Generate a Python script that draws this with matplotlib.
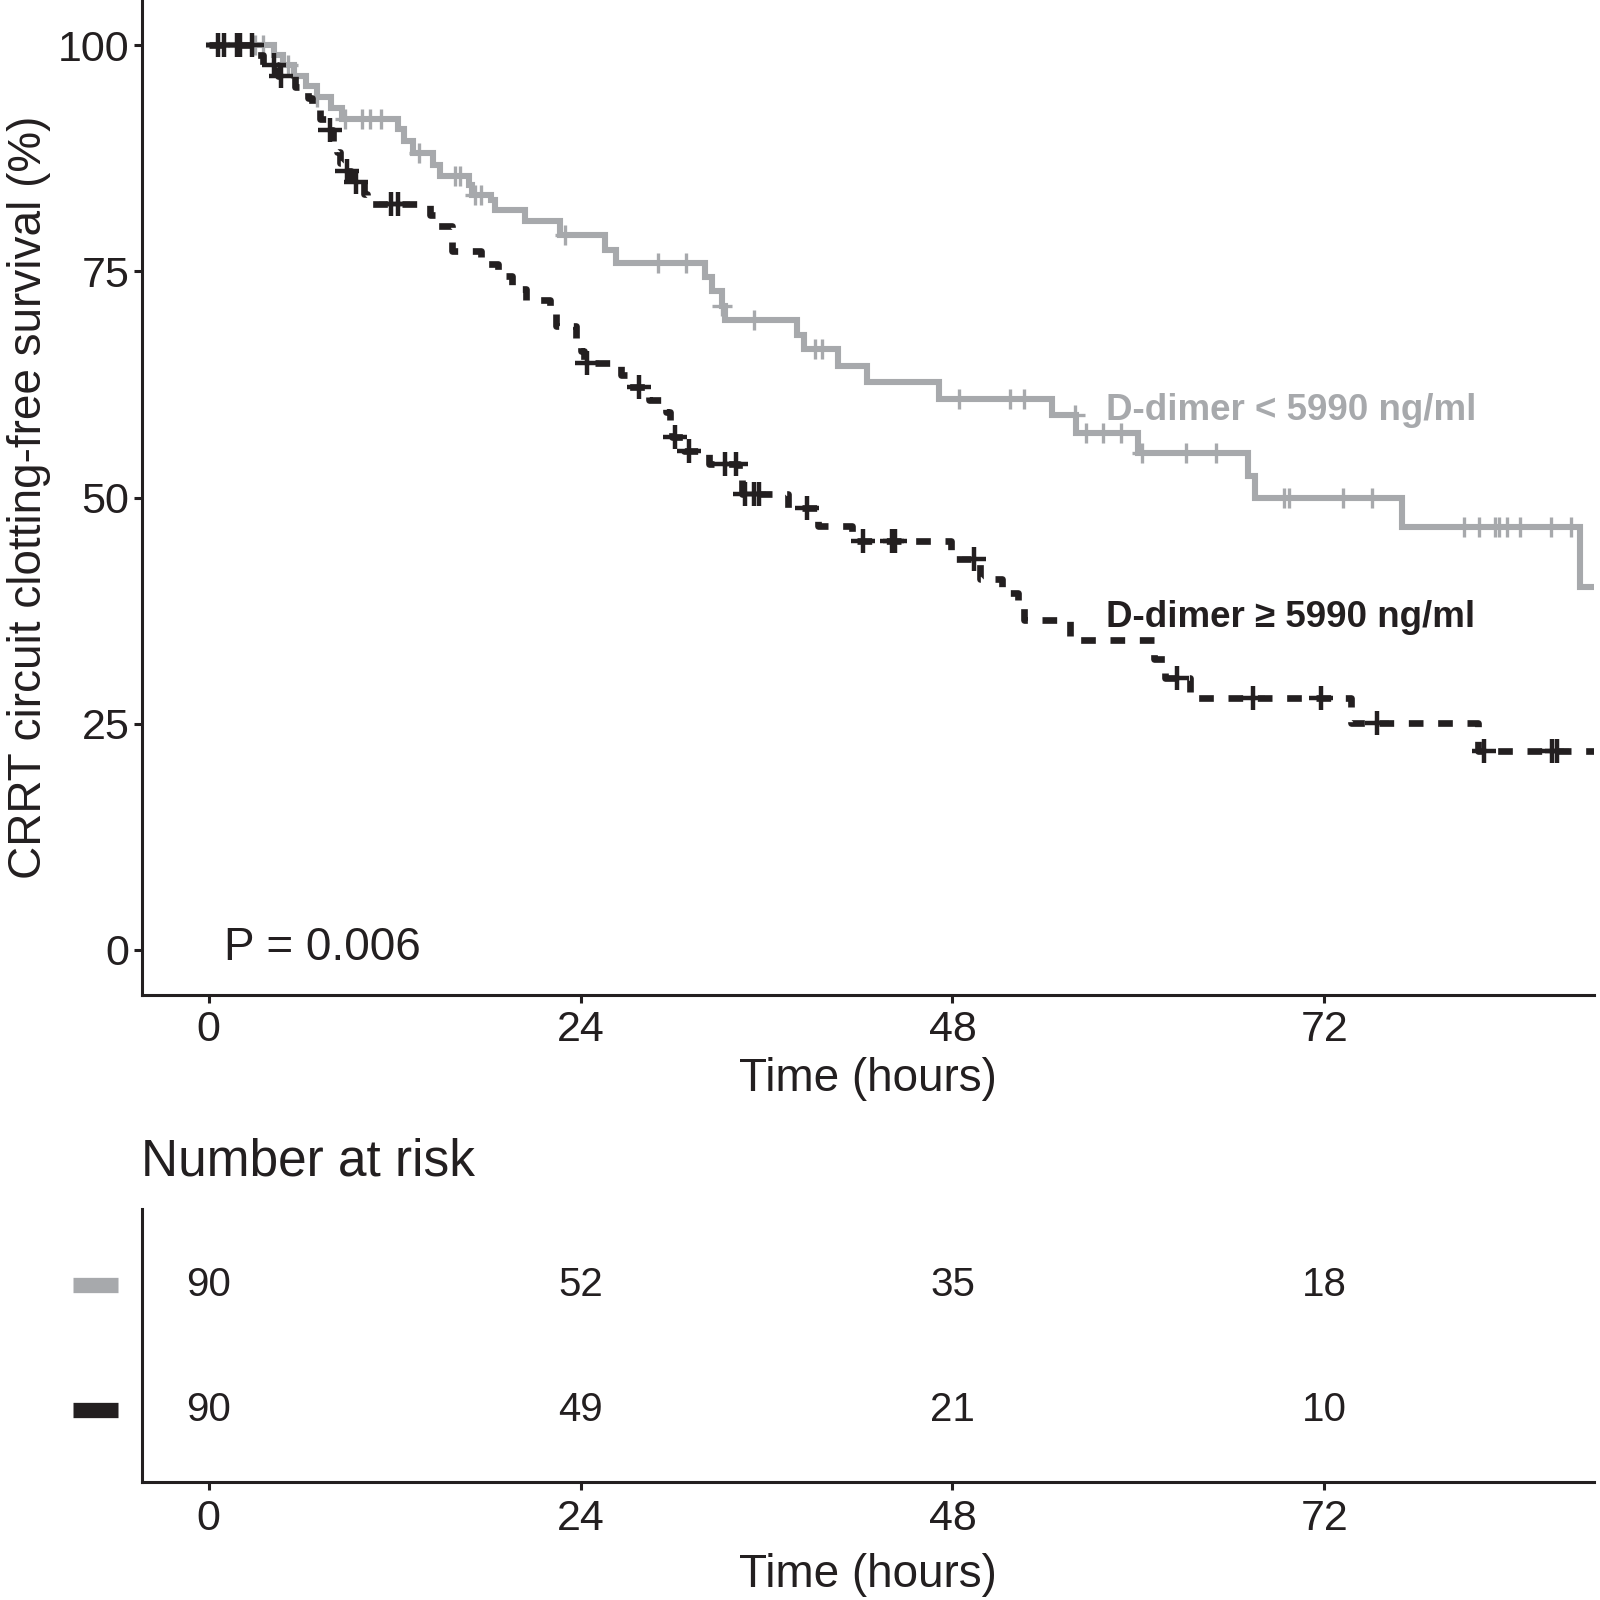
import numpy as np
import matplotlib
matplotlib.use("Agg")
import matplotlib.pyplot as plt
from matplotlib.transforms import blended_transform_factory

plt.rcParams['font.family'] = ['Liberation Sans', 'DejaVu Sans']

# step curves (time in hours, survival in %)
low_t = [0, 4.2, 4.8, 5.5, 6.3, 7.0, 7.9, 8.6, 12.2, 12.6, 13.2, 14.5, 14.9, 16.8, 17.0,
         18.2, 18.5, 20.4, 22.7, 25.6, 26.3, 32.0, 32.5, 33.1, 33.3, 38.0, 38.4, 40.6,
         42.5, 47.1, 54.4, 56.0, 60.0, 67.1, 67.5, 77.0, 88.5, 89.4]
low_s = [100, 98.9, 97.8, 96.6, 95.5, 94.3, 93.1, 91.9, 90.7, 89.4, 88.1, 86.8, 85.6, 84.6, 83.5,
         82.9, 81.8, 80.6, 79.0, 77.4, 75.9, 74.4, 72.8, 71.2, 69.6, 68.0, 66.4, 64.5,
         62.8, 60.9, 59.1, 57.1, 54.9, 52.4, 50.0, 46.8, 40.1, 40.1]
low_cens = [3.0, 3.5, 5.1, 7.0, 8.8, 9.9, 10.4, 11.1, 13.6, 15.9, 16.2, 17.2, 17.6, 23.0,
            29.0, 30.8, 33.15, 35.2, 39.1, 39.6, 48.4, 51.7, 52.6, 55.9, 56.6, 57.7, 58.9,
            60.2, 63.1, 65.0, 69.4, 69.7, 73.2, 75.1, 81.0, 82.0, 83.0, 83.3, 83.8, 84.6,
            86.6, 87.9]

high_t = [0, 2.9, 3.5, 4.5, 5.6, 6.4, 6.7, 7.2, 7.6, 8.0, 8.3, 8.5, 8.7, 9.2, 10.0, 10.2,
          14.3, 14.8, 15.7, 17.6, 18.7, 19.6, 20.5, 22.0, 22.4, 23.7, 24.0, 24.2, 26.6,
          27.0, 28.4, 29.5, 29.8, 29.9, 30.7, 32.3, 34.2, 34.4, 37.4, 39.3, 41.5, 47.9,
          49.8, 51.2, 52.2, 52.6, 55.6, 61.0, 61.7, 63.3, 73.7, 81.9, 89.4]
high_s = [100, 98.9, 97.8, 96.6, 95.4, 94.2, 93.0, 91.8, 90.6, 89.4, 88.2, 87.0, 86.1, 84.9, 83.6, 82.4,
          81.2, 80.0, 77.3, 75.8, 74.5, 73.1, 71.8, 70.3, 69.0, 67.6, 66.2, 64.9, 63.5,
          62.2, 60.8, 59.5, 58.1, 56.7, 55.2, 53.7, 52.0, 50.4, 48.9, 46.9, 45.2, 43.2,
          41.0, 39.5, 38.0, 36.5, 34.3, 32.2, 30.1, 27.8, 25.1, 22.0, 22.0]
high_cens = [0.6, 1.0, 1.8, 2.0, 2.8, 4.2, 4.7, 7.8, 8.9, 9.5, 11.8, 12.2, 24.4, 27.8, 30.1,
             31.0, 33.3, 34.0, 34.6, 35.2, 35.5, 38.6, 42.2, 44.1, 44.3, 49.4, 62.5, 67.4,
             71.8, 75.4, 82.3, 86.7, 87.0]

risk_times = [0, 24, 48, 72]
risk_low = [90, 52, 35, 18]
risk_high = [90, 49, 21, 10]

GRAY = '#A7A9AC'
DARK = '#231F20'

def level_at(ts, ss, c):
    i = np.searchsorted(ts, c, side='right') - 1
    return ss[i]

fig = plt.figure(figsize=(16, 16), dpi=100)
ax = fig.add_axes([0.08875, 0.378, 0.9075, 0.622])

ax.step(low_t, low_s, where='post', color=GRAY, lw=4.4, solid_joinstyle='miter')
ax.plot(low_cens, [level_at(low_t, low_s, c) for c in low_cens], ls='none',
        marker='+', ms=15, mew=2.4, color=GRAY)
ax.step(high_t, high_s, where='post', color=DARK, lw=4.8, ls=(0, (2.2, 2.2)))
ax.plot(high_cens, [level_at(high_t, high_s, c) for c in high_cens], ls='none',
        marker='+', ms=17, mew=3.2, color=DARK)

ax.set_xlim(-4.3, 89.4)
ax.set_ylim(-5, 105)
ax.set_xticks([0, 24, 48, 72])
ax.set_yticks([0, 25, 50, 75, 100])
for s in ['top', 'right']:
    ax.spines[s].set_visible(False)
for s in ['left', 'bottom']:
    ax.spines[s].set_linewidth(2.2)
    ax.spines[s].set_color(DARK)
ax.tick_params(length=6, width=2.2, color=DARK, labelsize=31, labelcolor=DARK)
ax.tick_params(axis='x', pad=5)
ax.tick_params(axis='y', pad=3)
ax.set_xlabel('Time (hours)', fontsize=33, color=DARK, labelpad=5)
ax.set_ylabel('CRRT circuit clotting-free survival (%)', fontsize=33, color=DARK)
ax.yaxis.set_label_coords(-0.063, 0.5)

ax.text(1.0, 0.2, 'P = 0.006', fontsize=33, color=DARK, ha='left', va='center')
ax.text(57.9, 59.6, 'D-dimer < 5990 ng/ml', fontsize=26.5, fontweight='bold', color=GRAY,
        ha='left', va='center')
ax.text(57.9, 36.7, 'D-dimer \u2265 5990 ng/ml', fontsize=26.5, fontweight='bold', color=DARK,
        ha='left', va='center')

# risk table
rt = fig.add_axes([0.08875, 0.07375, 0.9075, 0.1706])
rt.set_xlim(-4.3, 89.4)
rt.set_ylim(0.43, 2.6)
for x, a, b in zip(risk_times, risk_low, risk_high):
    rt.text(x, 2, str(a), fontsize=29, color=DARK, ha='center', va='center')
    rt.text(x, 1, str(b), fontsize=29, color=DARK, ha='center', va='center')
tr = blended_transform_factory(rt.transAxes, rt.transData)
rt.plot([-0.0475, -0.0165], [2, 2], color=GRAY, lw=11, solid_capstyle='butt',
        transform=tr, clip_on=False)
rt.plot([-0.0475, -0.0165], [1, 1], color=DARK, lw=11, solid_capstyle='butt',
        transform=tr, clip_on=False)
rt.set_xticks([0, 24, 48, 72])
rt.set_yticks([])
for s in ['top', 'right']:
    rt.spines[s].set_visible(False)
for s in ['left', 'bottom']:
    rt.spines[s].set_linewidth(2.2)
    rt.spines[s].set_color(DARK)
rt.tick_params(axis='x', length=6, width=2.2, color=DARK, labelsize=31, labelcolor=DARK, pad=6)
rt.set_xlabel('Time (hours)', fontsize=33, color=DARK, labelpad=10)
fig.text(0.088, 0.274, 'Number at risk', fontsize=37, color=DARK, ha='left', va='center')

fig.savefig('out.png', dpi=100)
